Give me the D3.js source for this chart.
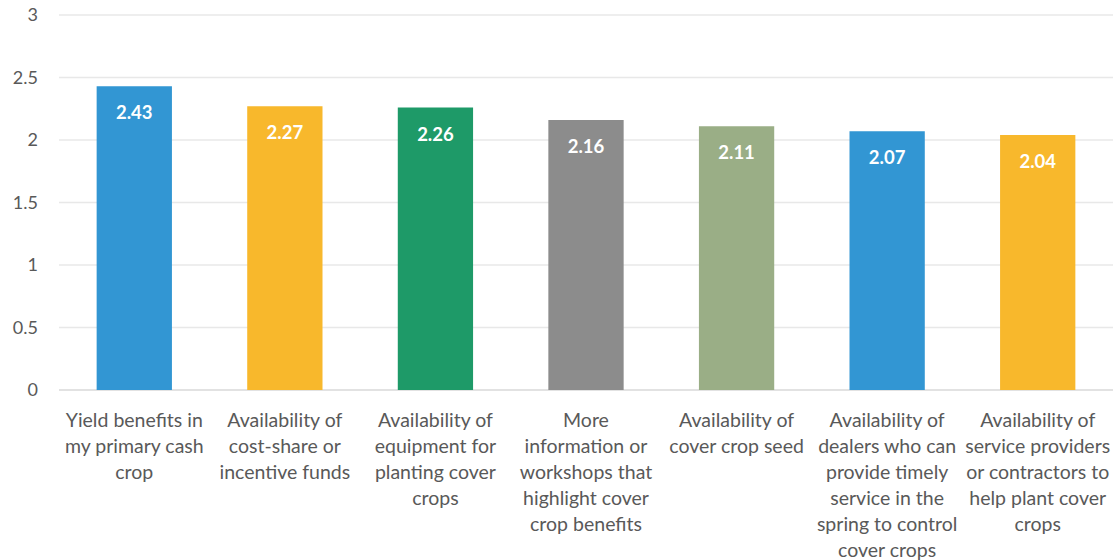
<!DOCTYPE html>
<html>
<head>
<meta charset="utf-8">
<script src="https://cdn.jsdelivr.net/npm/d3@7"></script>
<style>
  body { margin: 0; background: #fff; }
  svg { display: block; font-family: Lato, "Open Sans", sans-serif; }
</style>
</head>
<body>
<svg id="chart"></svg>
<script>
const categories = [
  "Yield benefits in\nmy primary cash\ncrop",
  "Availability of\ncost-share or\nincentive funds",
  "Availability of\nequipment for\nplanting cover\ncrops",
  "More\ninformation or\nworkshops that\nhighlight cover\ncrop benefits",
  "Availability of\ncover crop seed",
  "Availability of\ndealers who can\nprovide timely\nservice in the\nspring to control\ncover crops",
  "Availability of\nservice providers\nor contractors to\nhelp plant cover\ncrops"
];
const values = [2.43, 2.27, 2.26, 2.16, 2.11, 2.07, 2.04];
const barColors = ["#3296d3", "#f8b82c", "#1e9a68", "#8c8c8c", "#9aae86", "#3296d3", "#f8b82c"];
const yTicks = [0, 0.5, 1, 1.5, 2, 2.5, 3];

const width = 1118;
const height = 560;

const svg = d3.select("#chart").attr("width", width).attr("height", height);

const xScale = d3.scaleBand()
  .domain(d3.range(categories.length))
  .range([59, 1113])
  .paddingInner(0.5)
  .paddingOuter(0.25);

const yScale = d3.scaleLinear()
  .domain([0, 3])
  .range([390, 15]);

// gridlines
svg.append("g")
  .selectAll("line")
  .data(yTicks)
  .enter()
  .append("line")
  .attr("x1", 59)
  .attr("x2", 1113)
  .attr("y1", d => yScale(d))
  .attr("y2", d => yScale(d))
  .attr("stroke", d => d === 0 ? "#d9d9d9" : "#e8e8e8")
  .attr("stroke-width", 1.5);

// y axis labels
const yAxis = d3.axisLeft(yScale).tickValues(yTicks).tickSize(0).tickPadding(0).tickFormat(d => d);
svg.append("g")
  .attr("transform", "translate(38,0)")
  .call(yAxis)
  .call(g => g.select(".domain").remove())
  .selectAll("text")
  .attr("fill", "#595959")
  .style("font-size", "18px")
  .style("font-family", "Lato, sans-serif");

// bars
svg.selectAll("rect.bar")
  .data(values)
  .enter()
  .append("rect")
  .attr("class", "bar")
  .attr("x", (d, i) => xScale(i))
  .attr("width", xScale.bandwidth())
  .attr("y", d => yScale(d))
  .attr("height", d => yScale(0) - yScale(d))
  .attr("fill", (d, i) => barColors[i]);

// value labels
svg.selectAll("text.val")
  .data(values)
  .enter()
  .append("text")
  .attr("class", "val")
  .attr("x", (d, i) => xScale(i) + xScale.bandwidth() / 2)
  .attr("y", d => yScale(d) + 33)
  .attr("text-anchor", "middle")
  .attr("fill", "#ffffff")
  .style("font-size", "18.5px")
  .style("font-weight", "bold")
  .text(d => d.toFixed(2));

// category labels
const labels = svg.selectAll("text.cat")
  .data(categories)
  .enter()
  .append("text")
  .attr("class", "cat")
  .attr("text-anchor", "middle")
  .attr("fill", "#595959")
  .style("font-size", "19.5px");

labels.each(function (d, i) {
  const t = d3.select(this);
  d.split("\n").forEach((line, j) => {
    t.append("tspan")
      .attr("x", xScale(i) + xScale.bandwidth() / 2)
      .attr("y", 427 + j * 26)
      .text(line);
  });
});
</script>
</body>
</html>
